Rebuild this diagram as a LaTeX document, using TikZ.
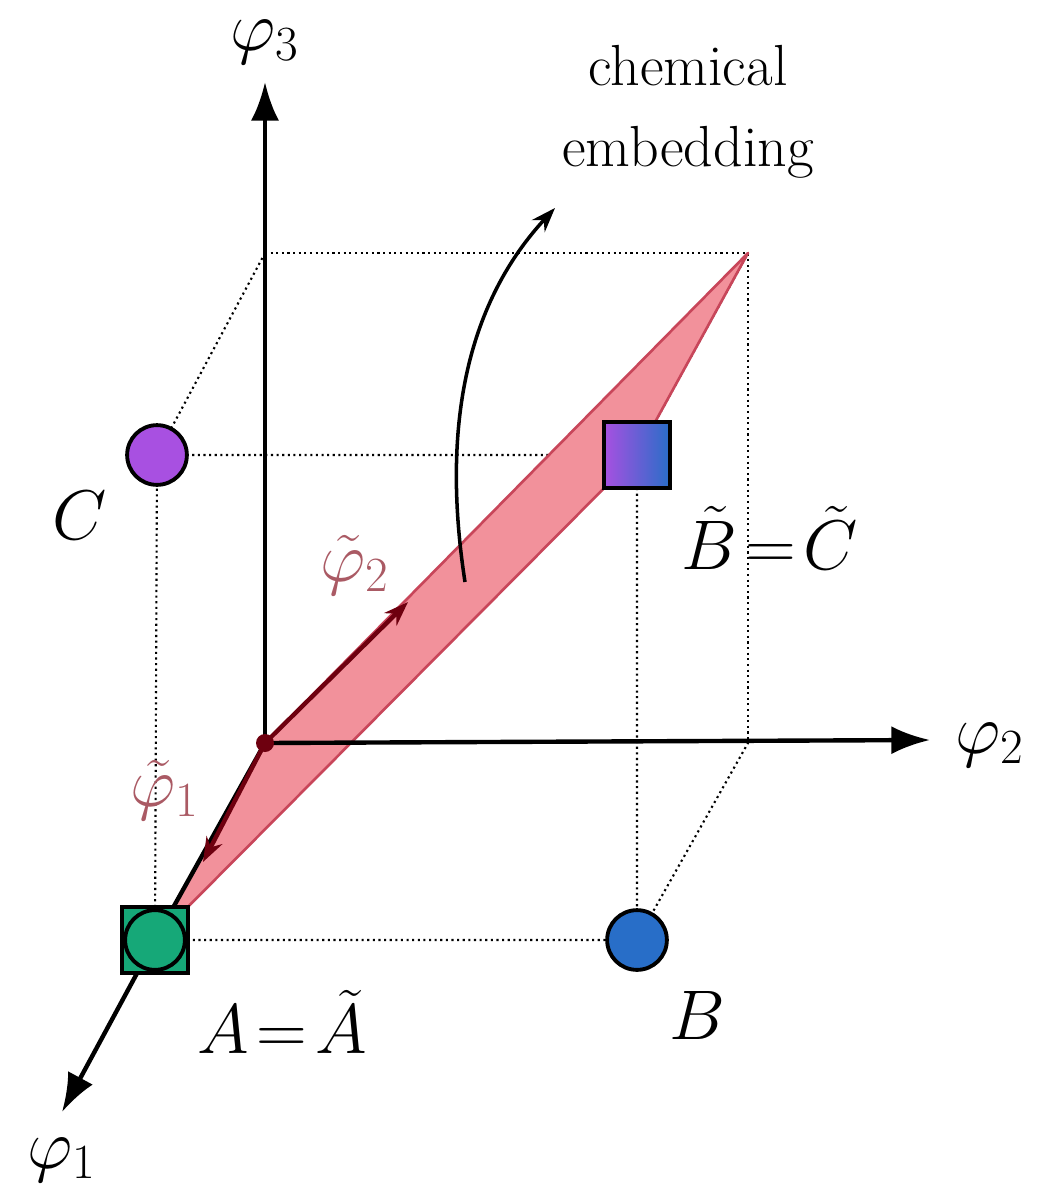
\RequirePackage{fix-cm}
\documentclass[tikz,border=0pt]{standalone}
\usetikzlibrary{arrows.meta}
\definecolor{planefill}{RGB}{242,145,155}
\definecolor{planeedge}{RGB}{200,70,90}
\definecolor{darkred}{RGB}{110,0,15}
\definecolor{labred}{RGB}{170,90,100}
\definecolor{cgreen}{RGB}{22,168,120}
\definecolor{cblue}{RGB}{40,110,200}
\definecolor{cpurple}{RGB}{168,80,225}
\begin{document}
\begin{tikzpicture}
        [
          x=0.02cm, y=-0.02cm,
          axis/.style={line width=2.5pt,-{Latex[length=22pt,width=16pt]}},
          tax/.style={line width=2.5pt,darkred,-{Stealth[length=14pt,width=10pt]}},
          cube/.style={dotted,line width=1.2pt},
          dot/.style={circle,draw=black,line width=2.2pt,minimum size=34pt,inner sep=0pt},
          sq/.style={draw=black,line width=2.2pt,minimum size=38pt,inner sep=0pt},
          lab/.style={font=\fontsize{40}{44}\selectfont},
          tlab/.style={font=\fontsize{40}{44}\selectfont,text=labred}
        ]
        \useasboundingbox (0,0) rectangle (1045,1200);
        % corners
        \coordinate (O) at (265,743);
        \coordinate (top) at (265,253);
        \coordinate (far) at (748,253);
        \coordinate (fmid) at (748,743);
        \coordinate (pA) at (155,940);
        \coordinate (pB) at (637,940);
        \coordinate (pC) at (157,455);
        \coordinate (pBC) at (637,455);
        % cube
        \draw[cube] (top) -- (far) -- (fmid);
        \draw[cube] (top) -- (pC) -- (pBC) -- (far);
        \draw[cube] (pC) -- (pA) -- (pB) -- (pBC);
        \draw[cube] (pB) -- (fmid);
        % plane
        \draw[fill=planefill,draw=planeedge,line width=1.5pt,line join=round]
        (O) -- (far) -- (pBC) -- (pA) -- cycle;
        % axes
        \coordinate (e3) at (265,82);
        \coordinate (e2) at (930,740);
        \coordinate (e1) at (62,1112);
        \draw[axis] (O) -- (e3);
        \draw[axis] (O) -- (e2);
        \draw[axis] (pA) -- (e1);
        \draw[line width=2.5pt] (O) -- (pA);
        \node[lab] (l3) at (265,42) {$\varphi_3$};
        \node[lab] (l2) at (990,745) {$\varphi_2$};
        \node[lab] (l1) at (62,1160) {$\varphi_1$};
        % tilde axes
        \coordinate (t2) at (408,602);
        \coordinate (t1) at (203,862);
        \draw[tax] (O) -- (t2);
        \draw[tax] (O) -- (t1);
        \fill[darkred] (O) circle (9);
        \node[tlab] (lt2) at (355,565) {$\tilde\varphi_2$};
        \node[tlab] (lt1) at (165,790) {$\tilde\varphi_1$};
        % points
        \node[sq,fill=cgreen] (sA) at (pA) {};
        \node[dot,fill=cgreen] (A) at (pA) {};
        \node[dot,fill=cblue] (B) at (pB) {};
        \node[dot,fill=cpurple] (C) at (pC) {};
        \node[sq,left color=cpurple,right color=cblue] (BC) at (pBC) {};
        \node[lab] (lA) at (282,1022) {$A\!=\!\tilde A$};
        \node[lab] (lB) at (697,1015) {$B$};
        \node[lab] (lC) at (80,515) {$C$};
        \node[lab] (lBC) at (770,538) {$\tilde B\!=\!\tilde C$};
        % embedding arrow
        \coordinate (ebot) at (465,582);
        \coordinate (etop) at (555,208);
        \draw[line width=2pt,-{Stealth[length=14pt,width=10pt]}]
        (ebot) .. controls (440,420) and (470,300) .. (etop);
        \node[font=\fontsize{33}{46}\selectfont,align=center] (emb) at (688,112) {chemical\\embedding};
\end{tikzpicture}
\end{document}
